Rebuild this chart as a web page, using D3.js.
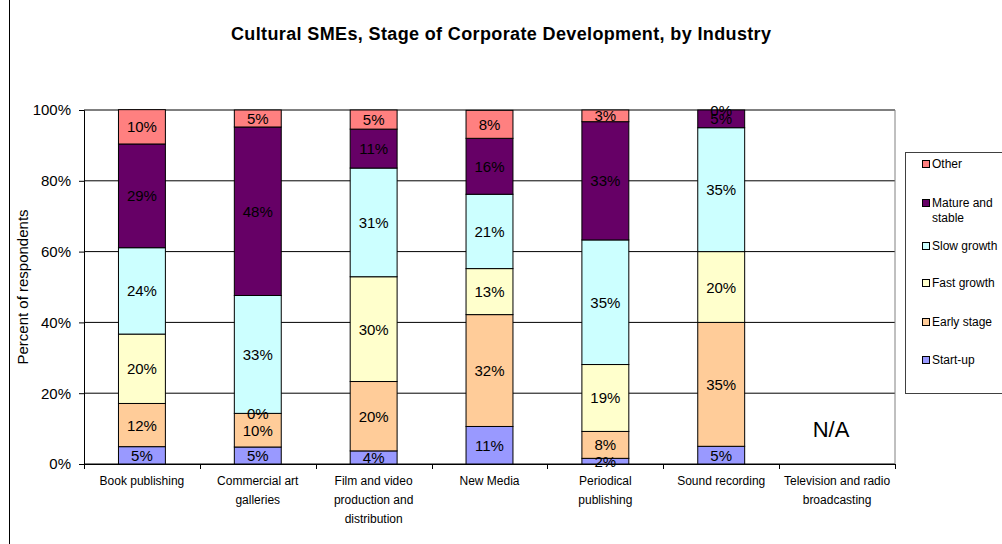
<!DOCTYPE html>
<html>
<head>
<meta charset="utf-8">
<script src="https://cdn.jsdelivr.net/npm/d3@7"></script>
<style>
  html, body { margin: 0; padding: 0; background: #fff; }
  svg { display: block; font-family: Arial, "Liberation Sans", sans-serif; }
</style>
</head>
<body>
<svg id="chart" width="1002" height="544"></svg>
<script>
// Industries (x categories), split into display lines
const categories = [
  "Book publishing",
  "Commercial art galleries",
  "Film and video production and distribution",
  "New Media",
  "Periodical publishing",
  "Sound recording",
  "Television and radio broadcasting"
];
const categoryLines = [
  ["Book publishing"],
  ["Commercial art", "galleries"],
  ["Film and video", "production and", "distribution"],
  ["New Media"],
  ["Periodical", "publishing"],
  ["Sound recording"],
  ["Television and radio", "broadcasting"]
];

// Share of respondents (%) per stage, bottom to top of each bar
const startUp      = [4.9, 4.8, 3.7, 10.6, 1.6, 5.0, null];
const earlyStage   = [12.2, 9.5, 19.6, 31.6, 7.6, 35.0, null];
const fastGrowth   = [19.6, 0.0, 29.6, 13.0, 18.9, 20.0, null];
const slowGrowth   = [24.4, 33.3, 30.7, 21.0, 35.2, 35.0, null];
const matureStable = [29.3, 47.6, 11.0, 15.8, 33.4, 5.0, null];
const other        = [9.7, 4.8, 5.4, 7.9, 3.3, 0.0, null];

const seriesNames  = ["Start-up", "Early stage", "Fast growth", "Slow growth", "Mature and stable", "Other"];
const seriesColors = ["#9999FF", "#FFCC99", "#FFFFCC", "#CCFFFF", "#660066", "#FF8080"];
const yTicks = [0, 20, 40, 60, 80, 100];

const seriesValues = [startUp, earlyStage, fastGrowth, slowGrowth, matureStable, other];

const rows = categories.map((c, i) => {
  const r = { category: c, hasData: startUp[i] !== null };
  seriesNames.forEach((s, k) => { r[s] = seriesValues[k][i] === null ? 0 : seriesValues[k][i]; });
  return r;
});

const svg = d3.select("#chart");

// Chart frame edge on the left
svg.append("line")
  .attr("x1", 9.5).attr("x2", 9.5).attr("y1", 0).attr("y2", 544)
  .attr("stroke", "#000").attr("stroke-width", 1);

const plot = { left: 84, right: 895, top: 110, bottom: 464 };

const x = d3.scaleBand()
  .domain(categories)
  .range([plot.left, plot.right])
  .padding(0);

const y = d3.scaleLinear()
  .domain([0, 100])
  .range([plot.bottom, plot.top]);

const barW = x.bandwidth() * 0.405;

// Title
svg.append("text")
  .attr("x", 501).attr("y", 40)
  .attr("text-anchor", "middle")
  .attr("font-size", 18).attr("font-weight", "bold")
  .attr("textLength", 540).attr("lengthAdjust", "spacing")
  .text("Cultural SMEs, Stage of Corporate Development, by Industry");

// Horizontal gridlines
svg.append("g")
  .selectAll("line")
  .data(yTicks)
  .join("line")
  .attr("x1", plot.left).attr("x2", plot.right)
  .attr("y1", d => y(d)).attr("y2", d => y(d))
  .attr("stroke", "#000").attr("stroke-width", 1);

// Right border of plot area
svg.append("line")
  .attr("x1", plot.right).attr("x2", plot.right)
  .attr("y1", plot.top).attr("y2", plot.bottom)
  .attr("stroke", "#808080").attr("stroke-width", 1);

// Y axis
const yAxis = d3.axisLeft(y)
  .tickValues(yTicks)
  .tickSize(5)
  .tickPadding(8)
  .tickFormat(d => d + "%");
const gy = svg.append("g")
  .attr("transform", `translate(${plot.left},0)`)
  .call(yAxis);
gy.select(".domain").attr("stroke", "#000");
gy.selectAll(".tick line").attr("stroke", "#000");
gy.selectAll(".tick text")
  .attr("font-size", 15).attr("fill", "#000")
  .attr("font-family", "Arial, 'Liberation Sans', sans-serif");

// Y axis title
svg.append("text")
  .attr("transform", `translate(28,${(plot.top + plot.bottom) / 2}) rotate(-90)`)
  .attr("text-anchor", "middle")
  .attr("font-size", 15)
  .text("Percent of respondents");

// Stacked bars
const stacked = d3.stack().keys(seriesNames)(rows);

const layers = svg.append("g")
  .selectAll("g")
  .data(stacked)
  .join("g")
  .attr("fill", (d, i) => seriesColors[i]);

layers.selectAll("rect")
  .data(d => d.filter(p => p.data.hasData))
  .join("rect")
  .attr("x", p => x(p.data.category) + (x.bandwidth() - barW) / 2)
  .attr("y", p => y(p[1]))
  .attr("width", barW)
  .attr("height", p => y(p[0]) - y(p[1]))
  .attr("stroke", "#000")
  .attr("stroke-width", 1);

// Value labels, centred in each segment
const labels = svg.append("g").attr("font-size", 15).attr("text-anchor", "middle");
stacked.forEach((layer, k) => {
  layer.filter(p => p.data.hasData).forEach(p => {
    labels.append("text")
      .attr("x", x(p.data.category) + x.bandwidth() / 2)
      .attr("y", (y(p[0]) + y(p[1])) / 2 + 5.5)
      .attr("fill", "#000")
      .text(Math.round(p[1] - p[0]) + "%");
  });
});

// N/A marker for the category with no data
rows.filter(r => !r.hasData).forEach(r => {
  svg.append("text")
    .attr("x", x(r.category) + x.bandwidth() / 2 - 6)
    .attr("y", 437)
    .attr("text-anchor", "middle")
    .attr("font-size", 22)
    .text("N/A");
});

// X axis
const xAxisLine = svg.append("g");
xAxisLine.append("line")
  .attr("x1", plot.left).attr("x2", plot.right)
  .attr("y1", plot.bottom + 0.5).attr("y2", plot.bottom + 0.5)
  .attr("stroke", "#000");
xAxisLine.selectAll(".xtick")
  .data(d3.range(categories.length + 1))
  .join("line")
  .attr("class", "xtick")
  .attr("x1", i => Math.round(plot.left + i * x.step()) + 0.5)
  .attr("x2", i => Math.round(plot.left + i * x.step()) + 0.5)
  .attr("y1", plot.bottom).attr("y2", plot.bottom + 5)
  .attr("stroke", "#000");

const xLabels = svg.append("g").attr("font-size", 12).attr("text-anchor", "middle");
categories.forEach((c, i) => {
  const t = xLabels.append("text")
    .attr("x", x(c) + x.bandwidth() / 2)
    .attr("y", 485);
  categoryLines[i].forEach((ln, j) => {
    t.append("tspan")
      .attr("x", x(c) + x.bandwidth() / 2)
      .attr("dy", j === 0 ? 0 : 19)
      .text(ln);
  });
});

// Legend (top entry first)
const legend = svg.append("g");
legend.append("rect")
  .attr("x", 905.5).attr("y", 152.5)
  .attr("width", 110).attr("height", 241)
  .attr("fill", "#fff").attr("stroke", "#404040");

const legendOrder = [5, 4, 3, 2, 1, 0];
const legendY = [164, 203, 246, 283, 322, 360];
legendOrder.forEach((k, j) => {
  const cy = legendY[j];
  legend.append("rect")
    .attr("x", 922.5).attr("y", cy - 3.5)
    .attr("width", 7).attr("height", 7)
    .attr("fill", seriesColors[k]).attr("stroke", "#000");
  const t = legend.append("text")
    .attr("x", 932).attr("y", cy + 4)
    .attr("font-size", 12);
  if (seriesNames[k] === "Mature and stable") {
    t.append("tspan").attr("x", 932).attr("dy", 0).text("Mature and");
    t.append("tspan").attr("x", 932).attr("dy", 15).text("stable");
  } else {
    t.text(seriesNames[k]);
  }
});
</script>
</body>
</html>
